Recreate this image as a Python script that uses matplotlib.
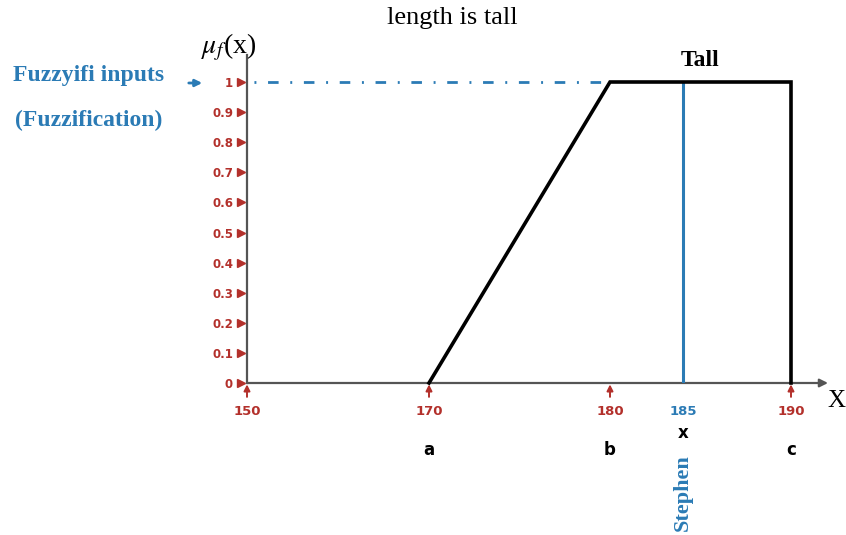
"""
Fuzzification of 'length is tall' - trapezoid membership function.
"""

import numpy as np
import matplotlib
matplotlib.use("Agg")
import matplotlib.pyplot as plt
from matplotlib.transforms import blended_transform_factory, ScaledTranslation

# ---- data -------------------------------------------------------------
X_TICKS = [150, 170, 180, 185, 190]
X_TICK_LABELS = ["150", "170", "180", "185", "190"]
Y_TICKS = [0, 0.1, 0.2, 0.3, 0.4, 0.5, 0.6, 0.7, 0.8, 0.9, 1]
Y_TICK_LABELS = ["0", "0.1", "0.2", "0.3", "0.4", "0.5", "0.6", "0.7", "0.8", "0.9", "1"]

TALL_X = [170, 180, 190, 190]
TALL_MU = [0, 1, 1, 0]

PARAM_NAMES = ["a", "b", "c"]
PARAM_VALUES = [170, 180, 190]

INPUT_NAME = "Stephen"
INPUT_VALUE = 185
INPUT_MU = 1

# the drawing uses an uneven spacing of the x axis
SCALE_VALUES = [140, 150, 170, 180, 185, 190, 200]
SCALE_POS = [156, 247, 429, 610, 683, 791, 1007]

RED = "#b3302b"
BLUE = "#2b7bb5"
GRAY = "#555555"
SERIF = "Liberation Serif"


def fwd(v):
    return np.interp(v, SCALE_VALUES, SCALE_POS)


def inv(p):
    return np.interp(p, SCALE_POS, SCALE_VALUES)


plt.rcParams["mathtext.fontset"] = "stix"

fig = plt.figure(figsize=(8.46, 5.35), dpi=100)
ax = fig.add_axes([247 / 846, 1 - 383 / 535, (828 - 247) / 846, (383 - 55) / 535])
ax.set_xscale("function", functions=(fwd, inv))
ax.set_xlim(150, float(inv(828)))
ax.set_ylim(0, (383 - 55) / 301)

for s in ["top", "right", "bottom"]:
    ax.spines[s].set_visible(False)
ax.spines["left"].set_color(GRAY)
ax.spines["left"].set_linewidth(1.6)

# x axis with arrow head
ax.annotate("", xy=(1.0, 0), xytext=(0, 0), xycoords="axes fraction",
            arrowprops=dict(arrowstyle="-|>", color=GRAY, lw=1.6,
                            mutation_scale=12, shrinkA=0, shrinkB=0))

# ticks
ax.set_xticks(X_TICKS)
ax.set_xticklabels(X_TICK_LABELS)
ax.xaxis.set_minor_locator(matplotlib.ticker.NullLocator())
ax.tick_params(axis="x", length=0, pad=15.5, labelsize=9.5, labelcolor=RED)
for lbl in ax.get_xticklabels():
    lbl.set_fontweight("bold")
    if lbl.get_text() == str(INPUT_VALUE):
        lbl.set_color(BLUE)

ax.set_yticks(Y_TICKS)
ax.set_yticklabels(Y_TICK_LABELS)
ax.tick_params(axis="y", length=0, pad=10, labelsize=8.5, labelcolor=RED)
for lbl in ax.get_yticklabels():
    lbl.set_fontweight("bold")

# red triangles next to y ticks
tr_y = blended_transform_factory(ax.transAxes, ax.transData) + \
    ScaledTranslation(-4.5 / 72, 0, fig.dpi_scale_trans)
ax.plot(np.zeros(len(Y_TICKS)), Y_TICKS, ">", color=RED, markersize=6,
        transform=tr_y, clip_on=False, zorder=5)

# red up-arrows below x ticks
for v in X_TICKS:
    if v == INPUT_VALUE:
        continue
    ax.annotate("", xy=(v, 0), xytext=(0, -10), textcoords="offset points",
                arrowprops=dict(arrowstyle="-|>", color=RED, lw=1.4,
                                mutation_scale=9, shrinkA=0, shrinkB=1),
                annotation_clip=False)

# membership function
ax.plot(TALL_X, TALL_MU, color="black", lw=2.6, clip_on=False, zorder=4,
        solid_joinstyle="miter")

# fuzzified input
ax.plot([150, TALL_X[1]], [INPUT_MU, INPUT_MU], color=BLUE, lw=2.0,
        linestyle=(5.5, (3.8, 4.2, 0.7, 4.2)), zorder=3)
ax.plot([INPUT_VALUE, INPUT_VALUE], [0, INPUT_MU], color=BLUE, lw=2.2, zorder=3)

ax.text(185.8, (383 - 60) / 301, "Tall", ha="center", va="center",
        fontsize=17, fontweight="bold", family=SERIF)

# parameter letters below the axis
for name, v in zip(PARAM_NAMES, PARAM_VALUES):
    ax.annotate(name, xy=(v, 0), xytext=(0, -48), textcoords="offset points",
                ha="center", va="center", fontsize=12, fontweight="bold",
                annotation_clip=False)
ax.annotate("x", xy=(INPUT_VALUE, 0), xytext=(0, -36), textcoords="offset points",
            ha="center", va="center", fontsize=12, fontweight="bold",
            annotation_clip=False)
ax.annotate(INPUT_NAME, xy=(INPUT_VALUE, 0), xytext=(0, -79), textcoords="offset points",
            ha="center", va="center", rotation=90, fontsize=16, fontweight="bold",
            color=BLUE, family=SERIF, annotation_clip=False)

# figure level text
fig.text(452 / 846, 1 - 18 / 535, "length is tall", ha="center", va="center",
         fontsize=19, family=SERIF)
fig.text(229 / 846, 1 - 47 / 535, r"$\mu_f$(x)", ha="center", va="center",
         fontsize=20, family=SERIF)
fig.text(836 / 846, 1 - 401 / 535, "X", ha="center", va="center",
         fontsize=18, family=SERIF)
fig.text(89 / 846, 1 - 75 / 535, "Fuzzyifi inputs", ha="center", va="center",
         fontsize=17, fontweight="bold", color=BLUE, family=SERIF)
fig.text(89 / 846, 1 - 120 / 535, "(Fuzzification)", ha="center", va="center",
         fontsize=17, fontweight="bold", color=BLUE, family=SERIF)
fig.patches.append(matplotlib.patches.FancyArrowPatch(
    (186 / 846, 1 - 83 / 535), (205 / 846, 1 - 83 / 535), transform=fig.transFigure,
    arrowstyle="-|>", mutation_scale=10, color=BLUE, lw=2))

fig.savefig("out.png", dpi=100)
